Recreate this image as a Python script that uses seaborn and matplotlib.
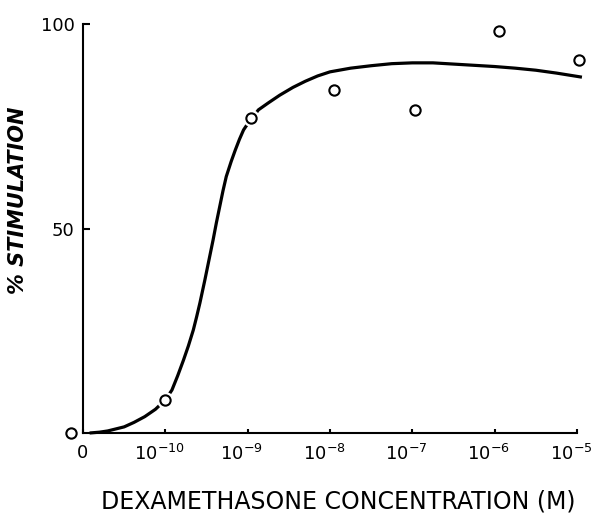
import matplotlib
matplotlib.use("Agg")
import matplotlib.pyplot as plt
import matplotlib.transforms as mtransforms
import seaborn as sns
import pandas as pd

# ---- data ----
# x positions: 0 = no dexamethasone, k = 10^(k-11) M
tick_positions = [0, 1, 2, 3, 4, 5, 6]
tick_labels = ["0", "$10^{-10}$", "$10^{-9}$", "$10^{-8}$", "$10^{-7}$", "$10^{-6}$", "$10^{-5}$"]
ytick_values = [50, 100]

point_x = [-0.15, 1.0, 2.04, 3.05, 4.03, 5.05, 6.02]
point_y = [0.0, 8.1, 77.0, 83.9, 79.0, 98.3, 91.2]

curve_x = [0.08, 0.2, 0.3, 0.4, 0.5, 0.62, 0.75, 0.88, 1.0, 1.08, 1.15, 1.22,
           1.28, 1.34, 1.38, 1.42, 1.48, 1.53, 1.58, 1.62, 1.66, 1.70, 1.74,
           1.80, 1.85, 1.90, 1.95, 2.0, 2.05, 2.13, 2.25, 2.39, 2.55, 2.7, 2.85,
           3.0, 3.25, 3.5, 3.75, 4.0, 4.25, 4.5, 4.75, 5.0, 5.25, 5.5, 5.75, 6.06]
curve_y = [0.0, 0.2, 0.5, 1.0, 1.5, 2.6, 4.0, 5.8, 8.1, 10.5, 14.0, 17.8,
           21.3, 25.2, 28.4, 31.8, 37.4, 42.3, 47.2, 51.4, 55.3, 59.2, 62.7,
           66.4, 69.2, 71.8, 74.1, 75.6, 76.8, 79.0, 80.7, 82.6, 84.5, 86.0, 87.3,
           88.3, 89.2, 89.8, 90.3, 90.5, 90.5, 90.2, 89.9, 89.6, 89.2, 88.7, 88.0, 87.0]

curve = pd.DataFrame({"x": curve_x, "y": curve_y})
points = pd.DataFrame({"x": point_x, "y": point_y})

sns.set_style("ticks")
plt.rcParams["font.family"] = ["DejaVu Sans"]

fig = plt.figure(figsize=(5.95, 5.15), dpi=100)
ax = fig.add_axes([83 / 595, 1 - 433 / 515, (577 - 83) / 595, (433 - 24) / 515])

sns.lineplot(data=curve, x="x", y="y", ax=ax, sort=False, color="black",
             linewidth=2.3, solid_capstyle="butt", solid_joinstyle="round",
             clip_on=False)
# white halo behind markers (gap in curve)
ax.scatter(points["x"], points["y"], s=150, color="white", zorder=3, clip_on=False,
           linewidths=0)
sns.scatterplot(data=points, x="x", y="y", ax=ax, marker="o", s=55,
                facecolor="white", edgecolor="black", linewidth=1.5,
                zorder=4, clip_on=False)

ax.set_xlim(0, 6)
ax.set_ylim(0, 100)
ax.set_xticks(tick_positions)
ax.set_xticklabels(tick_labels)
ax.set_yticks(ytick_values)
ax.set_yticklabels([str(v) for v in ytick_values])

for s in ["top", "right"]:
    ax.spines[s].set_visible(False)
for s in ["left", "bottom"]:
    ax.spines[s].set_linewidth(1.5)
    ax.spines[s].set_color("black")

ax.tick_params(axis="y", direction="in", length=5, width=1.5, labelsize=13,
               pad=6, colors="black")
ax.tick_params(axis="x", direction="in", length=3, width=1.5, labelsize=13,
               pad=8, colors="black")

# shift x tick labels slightly left, as in the reference
offset = mtransforms.ScaledTranslation(-6 / 100, 0, fig.dpi_scale_trans)
for i, lab in enumerate(ax.get_xticklabels()):
    if i > 0:
        lab.set_transform(lab.get_transform() + offset)

ax.set_xlabel("DEXAMETHASONE CONCENTRATION (M)", fontsize=17, color="black")
ax.set_ylabel("% STIMULATION", fontsize=15, fontstyle="italic", fontweight="bold",
              color="black")
ax.xaxis.set_label_coords((338 - 83) / (577 - 83), -(490 - 433) / (433 - 24))
ax.yaxis.set_label_coords(-(83 - 28) / (577 - 83), (433 - 200) / (433 - 24))

fig.savefig("out.png", dpi=100, facecolor="white")
